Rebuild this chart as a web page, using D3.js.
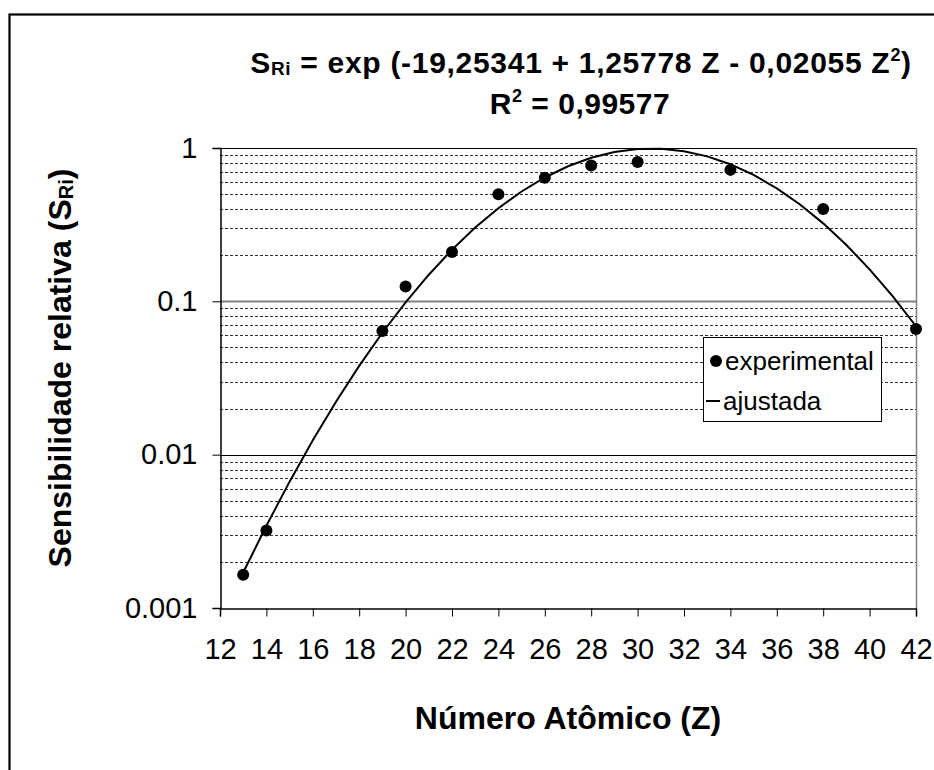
<!DOCTYPE html>
<html>
<head>
<meta charset="utf-8">
<script src="https://cdn.jsdelivr.net/npm/d3@7"></script>
<style>
  html, body { margin: 0; padding: 0; background: #fff; }
  svg { display: block; font-family: "Liberation Sans", Arial, sans-serif; }
</style>
</head>
<body>
<svg id="chart" width="934" height="770"></svg>
<script>
// ---- data ----
const zExperimental = [13, 14, 19, 20, 22, 24, 26, 28, 30, 34, 38, 42];
const sExperimental = [0.00165, 0.0032, 0.064, 0.125, 0.21, 0.50, 0.64, 0.77, 0.81, 0.72, 0.40, 0.066];

const zAjustada = [13, 14, 15, 16, 17, 18, 19, 20, 21, 22, 23, 24, 25, 26, 27, 28, 29, 30, 31, 32, 33, 34, 35, 36, 37, 38, 39, 40, 41, 42];
const sAjustada = [0.001703, 0.003440, 0.006668, 0.012404, 0.022146, 0.037946, 0.062403, 0.098488, 0.14918, 0.21687,
                   0.30258, 0.40515, 0.52066, 0.64215, 0.76010, 0.86349, 0.94144, 0.98510, 0.98928, 0.95347,
                   0.88195, 0.78294, 0.66707, 0.54546, 0.42806, 0.32240, 0.23304, 0.16167, 0.10764, 0.06878];

const xTicks = [12, 14, 16, 18, 20, 22, 24, 26, 28, 30, 32, 34, 36, 38, 40, 42];
const yTicks = [0.001, 0.01, 0.1, 1];
const yTickLabels = ["0.001", "0.01", "0.1", "1"];
const legendLabels = ["experimental", "ajustada"];

// ---- layout ----
const svg = d3.select("#chart");
const L = 220, R = 916, T = 148, B = 608;
const FONT = "Liberation Sans, Arial, sans-serif";
const x = d3.scaleLinear().domain([12, 42]).range([L, R]);
const y = d3.scaleLog().domain([0.001, 1]).range([B, T]);

// outer frame
svg.append("rect").attr("x", 9.5).attr("y", 14.5).attr("width", 1200).attr("height", 1200)
  .attr("fill", "none").attr("stroke", "#000").attr("stroke-width", 2.2);

// minor gridlines (dashed)
const minor = [];
[0.001, 0.01, 0.1].forEach(d => { for (let k = 2; k <= 9; k++) minor.push(k * d); });
svg.append("g").selectAll("line").data(minor).join("line")
  .attr("x1", L).attr("x2", R)
  .attr("y1", d => Math.round(y(d)) + 0.5).attr("y2", d => Math.round(y(d)) + 0.5)
  .attr("stroke", "#333").attr("stroke-width", 1).attr("stroke-dasharray", "3,2");

// major gridlines
svg.append("g").selectAll("line").data([0.01, 0.1]).join("line")
  .attr("x1", L).attr("x2", R)
  .attr("y1", d => Math.round(y(d)) + 0.5).attr("y2", d => Math.round(y(d)) + 0.5)
  .attr("stroke", d => d === 0.1 ? "#808080" : "#000").attr("stroke-width", d => d === 0.1 ? 2 : 1);

// plot border top/right
svg.append("line").attr("x1", L).attr("x2", R).attr("y1", Math.round(y(1)) + 0.5).attr("y2", Math.round(y(1)) + 0.5)
  .attr("stroke", "#000").attr("stroke-width", 1.2);
svg.append("line").attr("x1", R + 0.5).attr("x2", R + 0.5).attr("y1", y(1)).attr("y2", B)
  .attr("stroke", "#808080").attr("stroke-width", 1.5);

// axes
const xAxis = d3.axisBottom(x).tickValues(xTicks).tickSize(8).tickPadding(22).tickFormat(d3.format("d"));
const gx = svg.append("g").attr("transform", `translate(0,${B + 0.5})`).call(xAxis);
gx.attr("font-family", FONT);
gx.select(".domain").attr("stroke", "#000").attr("stroke-width", 1.5);
gx.selectAll(".tick line").attr("stroke", "#000").attr("stroke-width", 1);
gx.selectAll(".tick text").attr("font-size", 29).attr("fill", "#000");

const yAxis = d3.axisLeft(y).tickValues(yTicks).tickSize(8).tickPadding(15)
  .tickFormat(d => yTickLabels[yTicks.indexOf(d)]);
const gy = svg.append("g").attr("transform", `translate(${L + 0.5},0)`).call(yAxis);
gy.attr("font-family", FONT);
gy.select(".domain").attr("stroke", "#000").attr("stroke-width", 1.5);
gy.selectAll(".tick line").attr("stroke", "#000").attr("stroke-width", 1);
gy.selectAll(".tick text").attr("font-size", 29).attr("fill", "#000");

// fitted curve
const line = d3.line().x((d, i) => x(zAjustada[i])).y(d => y(d));
svg.append("path").datum(sAjustada).attr("d", line)
  .attr("fill", "none").attr("stroke", "#000").attr("stroke-width", 2);

// experimental points
svg.append("g").selectAll("circle").data(sExperimental).join("circle")
  .attr("cx", (d, i) => x(zExperimental[i])).attr("cy", d => y(d)).attr("r", 6).attr("fill", "#000");

// legend
const lg = svg.append("g");
lg.append("rect").attr("x", 703.5).attr("y", 337.5).attr("width", 178).attr("height", 84)
  .attr("fill", "#fff").attr("stroke", "#000").attr("stroke-width", 1);
lg.append("circle").attr("cx", 716).attr("cy", 361).attr("r", 6).attr("fill", "#000");
lg.append("line").attr("x1", 706).attr("x2", 720).attr("y1", 401).attr("y2", 401).attr("stroke", "#000").attr("stroke-width", 2);
lg.append("text").attr("x", 725).attr("y", 370).attr("font-size", 26).text(legendLabels[0]);
lg.append("text").attr("x", 723).attr("y", 410).attr("font-size", 26).text(legendLabels[1]);

// title
const t1 = svg.append("text").attr("x", 581).attr("y", 73).attr("text-anchor", "middle")
  .attr("font-size", 30).attr("font-weight", "bold").attr("letter-spacing", 0.7);
t1.append("tspan").text("S");
t1.append("tspan").attr("font-size", 19).attr("dy", 2).text("Ri");
t1.append("tspan").attr("dy", -2).text(" = exp (-19,25341 + 1,25778 Z - 0,02055 Z");
t1.append("tspan").attr("font-size", 18).attr("dy", -12).text("2");
t1.append("tspan").attr("dy", 12).text(")");

const t2 = svg.append("text").attr("x", 580).attr("y", 114).attr("text-anchor", "middle")
  .attr("font-size", 30).attr("font-weight", "bold").attr("letter-spacing", 0.5);
t2.append("tspan").text("R");
t2.append("tspan").attr("font-size", 18).attr("dy", -12).text("2");
t2.append("tspan").attr("dy", 12).text(" = 0,99577");

// axis titles
svg.append("text").attr("x", 568).attr("y", 729).attr("text-anchor", "middle")
  .attr("font-size", 32).attr("font-weight", "bold").text("Número Atômico (Z)");

const yl = svg.append("text").attr("transform", "translate(71,368) rotate(-90)").attr("text-anchor", "middle")
  .attr("font-size", 32).attr("font-weight", "bold");
yl.append("tspan").text("Sensibilidade relativa (S");
yl.append("tspan").attr("font-size", 20).attr("dy", 2).text("Ri");
yl.append("tspan").attr("dy", -2).text(")");
</script>
</body>
</html>
